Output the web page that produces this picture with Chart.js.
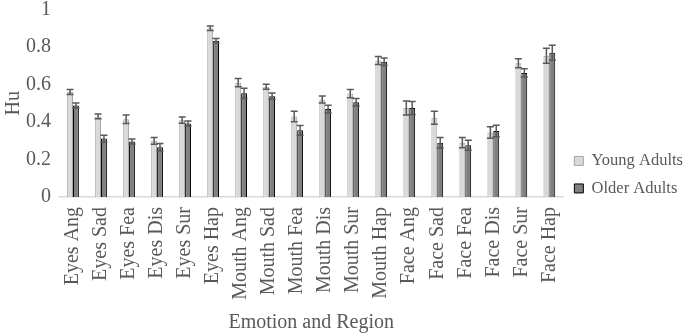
<!DOCTYPE html>
<html>
<head>
<meta charset="utf-8">
<script src="https://cdn.jsdelivr.net/npm/chart.js"></script>
<style>
  html, body { margin: 0; padding: 0; background: #fff; }
  #wrap { width: 685px; height: 335px; }
</style>
</head>
<body>
<div id="wrap"><canvas id="chart"></canvas></div>
<script>
// Data
const categories = ['Eyes Ang', 'Eyes Sad', 'Eyes Fea', 'Eyes Dis', 'Eyes Sur', 'Eyes Hap',
    'Mouth Ang', 'Mouth Sad', 'Mouth Fea', 'Mouth Dis', 'Mouth Sur', 'Mouth Hap',
    'Face Ang', 'Face Sad', 'Face Fea', 'Face Dis', 'Face Sur', 'Face Hap'];
const youngAdults = [0.56, 0.43, 0.415, 0.30, 0.41, 0.90, 0.61, 0.588, 0.43, 0.52, 0.552, 0.728, 0.475, 0.423, 0.29, 0.344, 0.714, 0.754];
const olderAdults = [0.488, 0.312, 0.296, 0.266, 0.392, 0.834, 0.553, 0.538, 0.356, 0.47, 0.505, 0.722, 0.475, 0.289, 0.276, 0.352, 0.662, 0.77];
const youngErr = [0.013, 0.013, 0.023, 0.018, 0.017, 0.012, 0.022, 0.013, 0.028, 0.019, 0.022, 0.021, 0.037, 0.035, 0.027, 0.031, 0.024, 0.04];
const olderErr = [0.013, 0.018, 0.013, 0.02, 0.013, 0.012, 0.027, 0.017, 0.026, 0.02, 0.02, 0.02, 0.035, 0.029, 0.027, 0.031, 0.022, 0.04];
const yTicks = [0, 0.2, 0.4, 0.6, 0.8, 1];

const textColor = '#595959';
const fontFamily = '"Liberation Serif", "Times New Roman", serif';

// draws the +/- error whiskers on top of every bar
const errorBars = {
    id: 'errorBars',
    afterDatasetsDraw(chart) {
        const ctx = chart.ctx;
        const yScale = chart.scales.y;
        chart.data.datasets.forEach((ds, i) => {
            const meta = chart.getDatasetMeta(i);
            meta.data.forEach((bar, j) => {
                const v = ds.data[j];
                const e = ds.errors[j];
                const top = yScale.getPixelForValue(v + e);
                const bot = yScale.getPixelForValue(v - e);
                ctx.save();
                ctx.strokeStyle = '#595959';
                ctx.lineWidth = 1.5;
                ctx.beginPath();
                ctx.moveTo(bar.x, top);
                ctx.lineTo(bar.x, bot);
                ctx.moveTo(bar.x - 3.5, top);
                ctx.lineTo(bar.x + 3.5, top);
                ctx.moveTo(bar.x - 3.5, bot);
                ctx.lineTo(bar.x + 3.5, bot);
                ctx.stroke();
                ctx.restore();
            });
        });
    }
};

new Chart(document.getElementById('chart'), {
    type: 'bar',
    data: {
        labels: categories,
        datasets: [{
            label: 'Young Adults',
            data: youngAdults,
            errors: youngErr,
            backgroundColor: '#d9d9d9',
            borderColor: '#a6a6a6',
            borderWidth: 1
        }, {
            label: 'Older Adults',
            data: olderAdults,
            errors: olderErr,
            backgroundColor: '#7f7f7f',
            borderColor: '#000000',
            borderWidth: 1
        }]
    },
    options: {
        responsive: true,
        maintainAspectRatio: false,
        animation: false,
        categoryPercentage: 0.42,
        barPercentage: 1,
        layout: { padding: { top: 0, right: -8, bottom: 0, left: 0 } },
        plugins: {
            tooltip: { enabled: false },
            legend: {
                position: 'right',
                title: {
                    display: true,
                    text: ' ',
                    padding: 0,
                    font: { size: 12 }
                },
                labels: {
                    boxWidth: 9,
                    boxHeight: 9,
                    padding: 11,
                    color: textColor,
                    font: { family: fontFamily, size: 16.5 }
                }
            }
        },
        scales: {
            x: {
                afterFit(scale) { scale.height = 138; },
                grid: { display: false, drawTicks: false },
                border: { display: true, color: '#d9d9d9', width: 1.5 },
                ticks: {
                    color: textColor,
                    minRotation: 90,
                    maxRotation: 90,
                    padding: 10,
                    font: { family: fontFamily, size: 20 }
                },
                title: {
                    display: true,
                    text: 'Emotion and Region',
                    color: textColor,
                    padding: { top: 2, bottom: 0 },
                    font: { family: fontFamily, size: 20 }
                }
            },
            y: {
                min: 0,
                max: 1,
                afterFit(scale) {
                    scale.width = 59;
                    scale.paddingTop = 9.5;
                },
                afterBuildTicks(scale) {
                    scale.ticks = yTicks.map(v => ({ value: v }));
                },
                grid: { display: false, drawTicks: false },
                border: { display: false },
                ticks: {
                    color: textColor,
                    padding: 8,
                    callback: v => String(v),
                    font: { family: fontFamily, size: 20 }
                },
                title: {
                    display: true,
                    text: 'Hu',
                    color: textColor,
                    padding: { top: 2, bottom: 0 },
                    font: { family: fontFamily, size: 20 }
                }
            }
        }
    },
    plugins: [errorBars]
});
</script>
</body>
</html>
